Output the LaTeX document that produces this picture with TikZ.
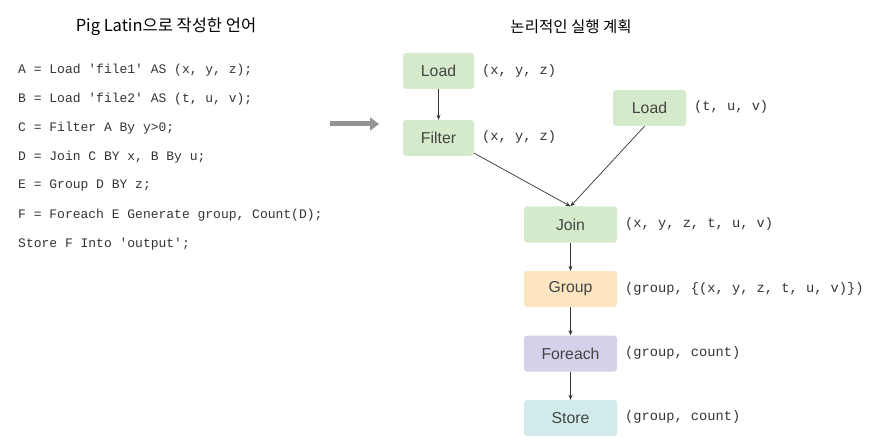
\documentclass[tikz,border=0pt]{standalone}
\usepackage{fontspec}
\setmainfont{Liberation Sans}
\setmonofont{Liberation Mono}
\newfontfamily\kr{Noto Sans CJK KR}
\usetikzlibrary{arrows.meta}
\definecolor{gbox}{HTML}{D5EACB}
\definecolor{obox}{HTML}{FDE5C2}
\definecolor{pbox}{HTML}{D4D1EA}
\definecolor{cbox}{HTML}{D0EBEA}
\definecolor{txt}{HTML}{333333}
\definecolor{boxtxt}{HTML}{444444}
\begin{document}
\begin{tikzpicture}[x=1pt,y=-1pt,
  opbox/.style={rounded corners=3pt,minimum height=36pt,inner sep=0pt,font=\fontsize{15.8}{17}\selectfont,text=boxtxt},
  small/.style={opbox,minimum width=71pt},
  wide/.style={opbox,minimum width=93pt},
  schema/.style={anchor=west,font=\ttfamily\fontsize{13.7}{15}\selectfont,text=txt,inner sep=0pt},
  code/.style={anchor=west,font=\ttfamily\fontsize{13}{15}\selectfont,text=txt,inner sep=0pt},
  title/.style={font=\kr\fontsize{16.5}{18}\selectfont,text=black,inner sep=0pt},
  link/.style={draw=txt,line width=0.7pt,-{Stealth[length=5pt,width=4pt]}}]
\useasboundingbox (0,0) rectangle (874,446);
\node[title] (t1) at (166,27) {Pig Latin으로 작성한 언어};
\node[title,font=\kr\fontsize{15.5}{18}\selectfont] (t2) at (571,27) {논리적인 실행 계획};
\node[code] (c1) at (18,70) {A = Load 'file1' AS (x, y, z);};
\node[code] (c2) at (18,99) {B = Load 'file2' AS (t, u, v);};
\node[code] (c3) at (18,128) {C = Filter A By y>0;};
\node[code] (c4) at (18,157) {D = Join C BY x, B By u;};
\node[code] (c5) at (18,186) {E = Group D BY z;};
\node[code] (c6) at (18,215) {F = Foreach E Generate group, Count(D);};
\node[code] (c7) at (18,244) {Store F Into 'output';};
\coordinate (a1) at (330,124);
\coordinate (a2) at (379,124);
\draw[line width=5pt,draw=gray!85,-{Triangle[length=9pt,width=13pt]}] (a1) -- (a2);
\node[small,fill=gbox] (load1) at (438.5,71) {Load};
\node[small,fill=gbox] (filter) at (438.5,138) {Filter};
\node[small,fill=gbox,minimum width=73pt] (load2) at (649.5,108) {Load};
\node[wide,fill=gbox] (join) at (570.5,224.5) {Join};
\node[wide,fill=obox] (group) at (570.5,289) {Group};
\node[wide,fill=pbox] (foreach) at (570.5,353.5) {Foreach};
\node[wide,fill=cbox] (store) at (570.5,418) {Store};
\node[schema] (s1) at (482,71) {(x, y, z)};
\node[schema] (s2) at (482,137) {(x, y, z)};
\node[schema] (s3) at (694,107) {(t, u, v)};
\node[schema] (s4) at (625,224) {(x, y, z, t, u, v)};
\node[schema] (s5) at (625,289) {(group, \{(x, y, z, t, u, v)\})};
\node[schema] (s6) at (625,353) {(group, count)};
\node[schema] (s7) at (625,417) {(group, count)};
\draw[link] (load1) -- (filter);
\draw[link] (filter.south east) ++(0,-3) coordinate (fs) (fs) -- (join.north);
\draw[link] ([xshift=-5pt]load2.south) -- (join.north);
\draw[link] (join) -- (group);
\draw[link] (group) -- (foreach);
\draw[link] (foreach) -- (store);
\end{tikzpicture}
\end{document}
